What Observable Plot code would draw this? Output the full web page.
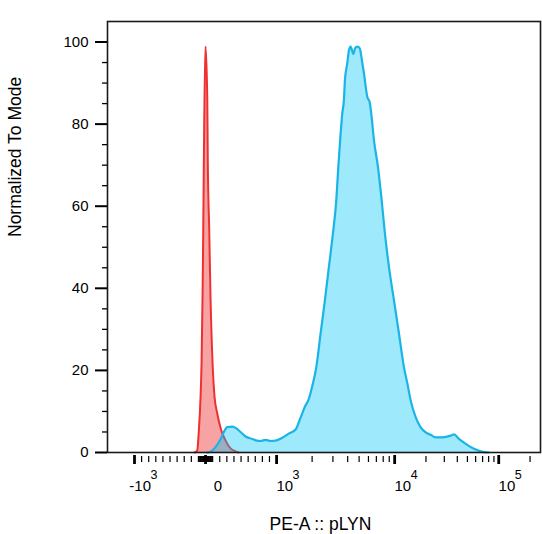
<!DOCTYPE html>
<html><head><meta charset="utf-8">
<script src="https://cdn.jsdelivr.net/npm/d3@7"></script>
<script src="https://cdn.jsdelivr.net/npm/@observablehq/plot@0.6"></script>
<style>body{margin:0;background:#fff}</style>
</head><body><div id="chart"></div>
<script>
// Unstained control (red) – raw PE-A values and % of mode
const redX = [-155,-117,-94,-70,-56,-42,-32,-24,-14,0,24,32,52,70,99,127,165,221,282,352,408,465];
const redY = [0,0.5,5.4,13.5,21.7,37.9,54.1,70.5,86.7,98.9,86.7,70.5,54.1,37.9,21.7,13.5,9.5,5.4,2.9,1.0,0.4,0];

// pLYN stained sample (blue)
const blueX = [24,70,141,211,258,306,376,423,493,563,658,718,775,845,915,986,1118,1271,1449,1597,1761,1856,2030,2170,2360,2567,2775,3000,3205,3334,3486,3604,3719,3792,3974,4101,4238,4467,4627,4830,5051,5325,5494,5870,6140,6385,6678,7220,7760,8277,8949,9865,11000,12280,13250,14250,15920,17780,19870,22200,24790,28750,34550,37180,41520,48150,57870,72240,80130];
const blueY = [0,0.2,1.3,3.2,5.0,6.2,6.3,6.0,5.0,3.9,3.3,2.9,2.8,3.1,2.8,2.9,3.6,4.6,5.6,8.5,11.5,12.7,16.8,20.8,29.0,37.1,45.2,53.3,61.5,69.6,77.7,82.7,85.9,90.7,94.9,98.0,98.9,97.1,98.5,98.9,98.5,94.9,92.4,86.6,85.4,81.7,76.1,69.6,61.5,53.3,45.2,37.1,29.0,20.8,16.8,12.7,8.6,6.1,4.9,4.3,3.7,3.7,4.1,4.4,3.3,2.1,0.9,0.1,0];

const xMajorTicks = [-1000, 0, 1000, 10000, 100000];
const xBaseLabels = ["-10", "0", "10", "10", "10"];
const xExpLabels = ["3", "", "3", "4", "5"];
const xMinorTicks = [-900,-800,-700,-600,-500,-400,-300,-200,-100,-90,-80,-70,-60,-50,-40,-30,-20,-10,10,20,30,40,50,60,70,80,90,100,200,300,400,500,600,700,800,900,2000,3000,4000,5000,6000,7000,8000,9000,20000,30000,40000,50000,60000,70000,80000,90000,200000];
const yMajorTicks = [0, 20, 40, 60, 80, 100];
const yMinorTicks = [5,10,15,25,30,35,45,50,55,65,70,75,85,90,95];
const xTitle = "PE-A :: pLYN";
const yTitle = "Normalized To Mode";
const xDomain = [-1380, 252000];
const yDomain = [0, 105];

// biexponential-like display transform (linear near zero, log decades above)
function T(x) {
  if (x <= 1000) return x / 1000;
  if (x <= 1e4) return 1 + 1.662 * Math.log10(x / 1000);
  return 2.662 + 1.465 * Math.log10(x / 1e4);
}

const red = redX.map((x, i) => ({x, y: redY[i]}));
const blue = blueX.map((x, i) => ({x, y: blueY[i]}));
const px = d => T(d.x);

const chart = Plot.plot({
  width: 542,
  height: 534,
  marginLeft: 107,
  marginRight: 2,
  marginTop: 21,
  marginBottom: 82,
  style: {fontFamily: "'Liberation Sans', Arial, sans-serif", background: "#fff", overflow: "visible"},
  x: {type: "linear", domain: xDomain.map(T), axis: null},
  y: {domain: yDomain, axis: null},
  marks: [
    Plot.areaY(red, {x: px, y: "y", fill: "rgb(235,35,35)", fillOpacity: 0.42, curve: "monotone-x"}),
    Plot.lineY(red, {x: px, y: "y", stroke: "#ee3030", strokeWidth: 2, curve: "monotone-x"}),
    Plot.areaY(blue, {x: px, y: "y", fill: "rgb(0,196,248)", fillOpacity: 0.38, curve: "monotone-x"}),
    Plot.lineY(blue, {x: px, y: "y", stroke: "#1ab4e6", strokeWidth: 2.2, curve: "monotone-x"}),
    Plot.frame({stroke: "#1a1a1a", strokeWidth: 1.6}),
    Plot.axisX({ticks: xMajorTicks.map(T), tickSize: 9, strokeWidth: 2.8, text: null, label: null, dy: 3}),
    Plot.axisX({ticks: xMinorTicks.map(T), tickSize: 6, strokeWidth: 1.2, text: null, label: null, dy: 4}),
    Plot.text(xMajorTicks, {x: d => T(d), text: (d, i) => xBaseLabels[i], frameAnchor: "bottom", textAnchor: "end", lineAnchor: "top", dx: 16.5, dy: 28, fontSize: 15, fill: "#000"}),
    Plot.text(xMajorTicks, {x: d => T(d), text: (d, i) => xExpLabels[i], frameAnchor: "bottom", textAnchor: "start", lineAnchor: "top", dx: 16, dy: 18, fontSize: 12.5, fill: "#000"}),
    Plot.axisY({ticks: yMajorTicks, tickSize: 12, strokeWidth: 2, tickPadding: 7, fontSize: 15, label: null}),
    Plot.axisY({ticks: yMinorTicks, tickSize: 5, strokeWidth: 1.3, text: null, label: null}),
    Plot.text([xTitle], {frameAnchor: "bottom", lineAnchor: "top", dx: -3.5, dy: 65, fontSize: 17.5, fill: "#000"}),
    Plot.text([yTitle], {frameAnchor: "left", rotate: -90, dx: -92, fontSize: 17.5, fill: "#000"})
  ]
});
document.getElementById("chart").appendChild(chart);
</script>
</body></html>
